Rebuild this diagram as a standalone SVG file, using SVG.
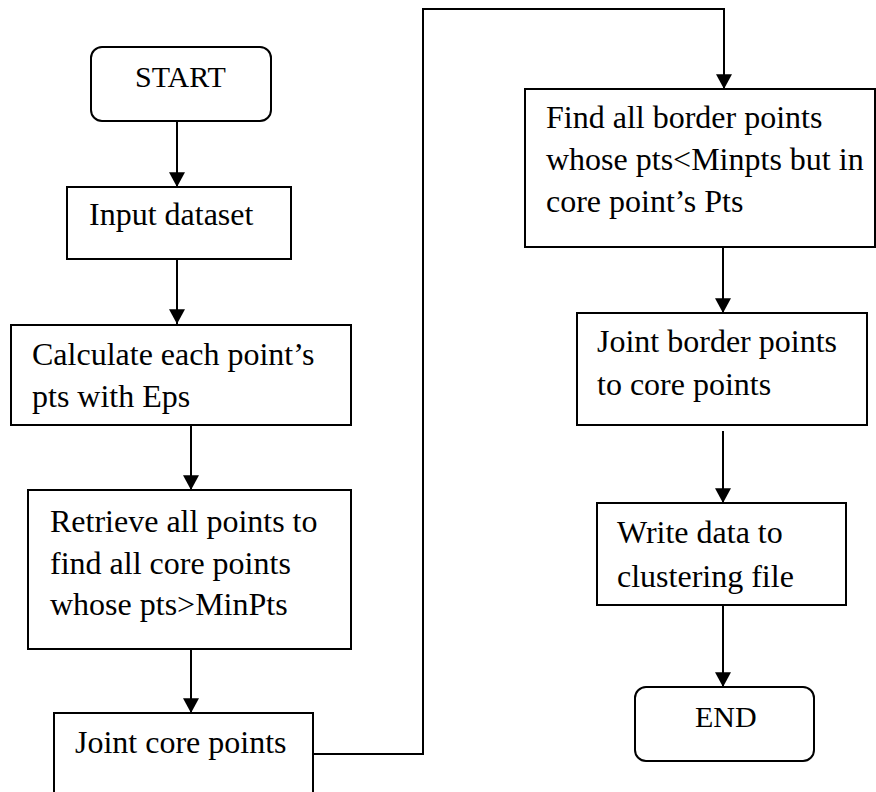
<svg xmlns="http://www.w3.org/2000/svg" width="876" height="792" viewBox="0 0 876 792">
  <style>
    .box { fill: #ffffff; stroke: #000000; stroke-width: 2; }
    .lbl { font-family: "Liberation Serif", "Times New Roman", serif; font-size: 32px; fill: #000000; }
    .term { font-family: "Liberation Serif", "Times New Roman", serif; font-size: 30px; fill: #000000; }
    .conn { fill: none; stroke: #000000; stroke-width: 2; marker-end: url(#arrow); }
  </style>
  <defs>
    <marker id="arrow" markerUnits="userSpaceOnUse" markerWidth="16" markerHeight="16" viewBox="0 0 14 14" refX="13" refY="7" orient="auto">
      <path d="M0,0 L13,7 L0,14 Z" fill="#000000"/>
    </marker>
  </defs>
  <rect width="876" height="792" fill="#ffffff"/>

  <!-- connectors -->
  <g id="connectors">
    <path class="conn" d="M177,121 V187"/>
    <path class="conn" d="M177,259 V324"/>
    <path class="conn" d="M191,425 V490"/>
    <path class="conn" d="M191,649 V713"/>
    <path class="conn" d="M313,754 H423 V9 H724 V89"/>
    <path class="conn" d="M723,247 V313"/>
    <path class="conn" d="M723,431 V503"/>
    <path class="conn" d="M723,605 V687"/>
  </g>

  <g id="start">
    <rect class="box" x="91" y="47" width="180" height="74" rx="11"/>
    <text class="term" x="135" y="87">START</text>
  </g>

  <g id="input">
    <rect class="box" x="67" y="187" width="224" height="72"/>
    <text class="lbl" x="89" y="225">Input dataset</text>
  </g>

  <g id="calculate">
    <rect class="box" x="11" y="325" width="340" height="100"/>
    <text class="lbl" x="32" y="365">Calculate each point’s</text>
    <text class="lbl" x="32" y="407">pts with Eps</text>
  </g>

  <g id="retrieve">
    <rect class="box" x="28" y="490" width="323" height="159"/>
    <text class="lbl" x="50" y="532">Retrieve all points to</text>
    <text class="lbl" x="50" y="574">find all core points</text>
    <text class="lbl" x="50" y="615">whose pts&gt;MinPts</text>
  </g>

  <g id="joint-core">
    <rect class="box" x="54" y="713" width="259" height="90"/>
    <text class="lbl" x="75" y="753">Joint core points</text>
  </g>

  <g id="find-border">
    <rect class="box" x="525" y="89" width="350" height="158"/>
    <text class="lbl" x="546" y="128">Find all border points</text>
    <text class="lbl" x="546" y="170">whose pts&lt;Minpts but in</text>
    <text class="lbl" x="546" y="212">core point’s Pts</text>
  </g>

  <g id="joint-border">
    <rect class="box" x="577" y="313" width="290" height="112"/>
    <text class="lbl" x="597" y="352">Joint border points</text>
    <text class="lbl" x="597" y="395">to core points</text>
  </g>

  <g id="write">
    <rect class="box" x="597" y="503" width="249" height="102"/>
    <text class="lbl" x="617" y="543">Write data to</text>
    <text class="lbl" x="617" y="587">clustering file</text>
  </g>

  <g id="end">
    <rect class="box" x="635" y="687" width="179" height="74" rx="11"/>
    <text class="term" x="695" y="727">END</text>
  </g>
</svg>
